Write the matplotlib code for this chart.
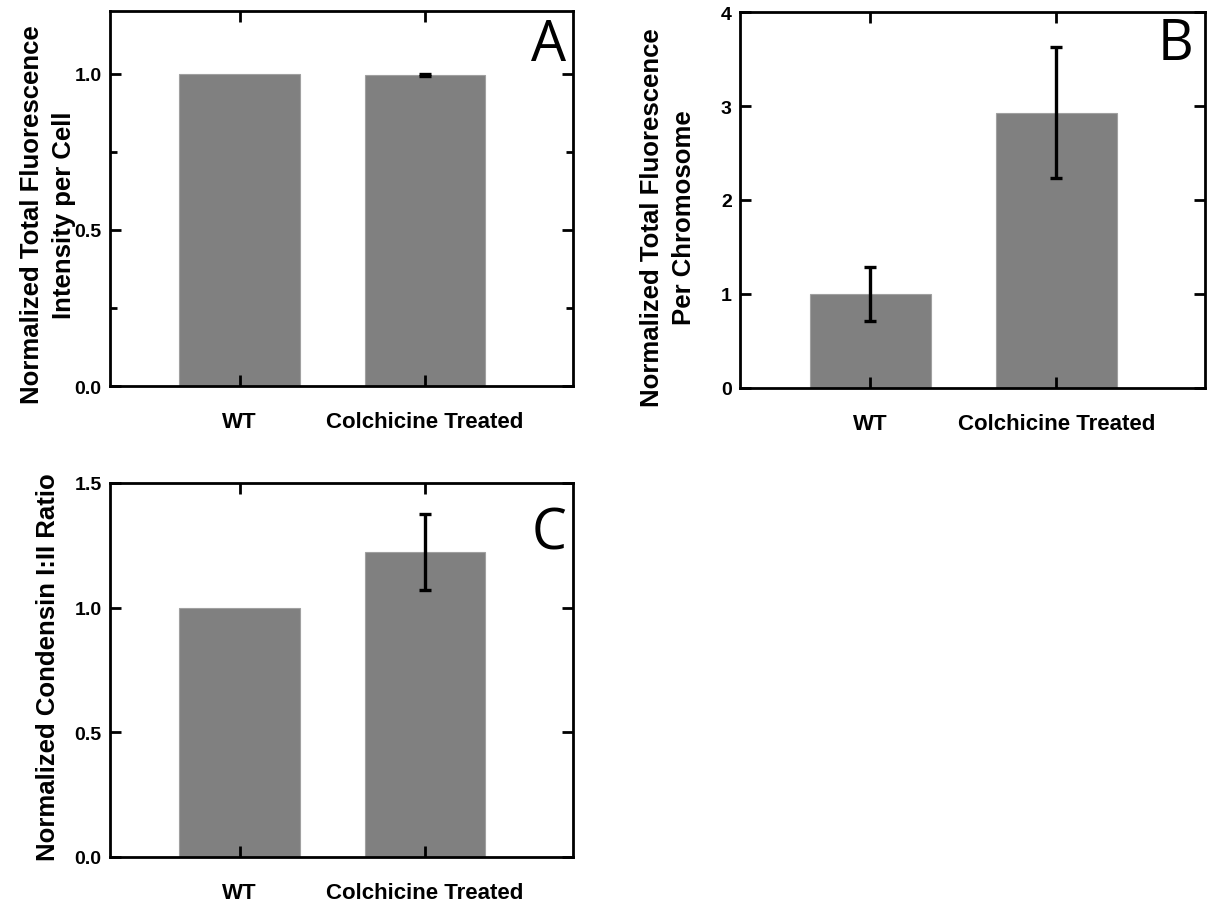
import matplotlib.pyplot as plt
from matplotlib.ticker import MultipleLocator, FormatStrFormatter

categories = ['WT', 'Colchicine Treated']

# panel A
cellMeans = [1.0, 0.995]
cellErr = [0.0, 0.003]
# panel B
chromMeans = [1.0, 2.93]
chromErr = [0.29, 0.70]
# panel C
ratioMeans = [1.0, 1.223]
ratioErr = [0.0, 0.151]

plt.rcParams['font.family'] = ['Liberation Sans', 'DejaVu Sans']

W, H = 1207, 903
fig = plt.figure(figsize=(W / 100, H / 100), dpi=100)


def box(l, t, r, b):
    return [l / W, 1 - b / H, (r - l) / W, (b - t) / H]


ind = [1, 2]
width = 0.65


def panel(rect, means, errs, ymax, major, minor, fmt, letter, letter_xy):
    ax = fig.add_axes(box(*rect))
    ax.bar(ind, means, width, color='#808080', edgecolor='#a0a0a0', linewidth=0.8)
    # only bars with a real error get a bar (no stray caps)
    for x, m, e in zip(ind, means, errs):
        if e > 0:
            ax.errorbar(x, m, yerr=e, fmt='none', ecolor='black', elinewidth=2.4,
                        capsize=4.5, capthick=2.4)
    ax.set_xlim(0.3, 2.8)
    ax.set_ylim(0, ymax)
    ax.set_xticks(ind)
    ax.set_xticklabels(categories, fontsize=16, fontweight='bold')
    ax.yaxis.set_major_locator(MultipleLocator(major))
    if minor:
        ax.yaxis.set_minor_locator(MultipleLocator(minor))
    ax.yaxis.set_major_formatter(FormatStrFormatter(fmt))
    for lab in ax.get_yticklabels():
        lab.set_fontweight('bold')
        lab.set_fontsize(14)
    ax.tick_params(which='both', direction='in', top=True, right=True)
    ax.tick_params(which='major', length=8, width=2)
    ax.tick_params(which='minor', length=5, width=2)
    ax.tick_params(axis='x', pad=18)
    ax.tick_params(axis='y', pad=6)
    for s in ax.spines.values():
        s.set_linewidth(2)
    ax.text(letter_xy[0], letter_xy[1], letter, transform=ax.transAxes,
            ha='right', va='top', fontsize=40, family='Open Sans')
    return ax


panel((110, 12, 573, 387), cellMeans, cellErr, 1.2, 0.5, 0.25, '%.1f', 'A', (0.985, 0.985))
panel((740, 13, 1205, 389), chromMeans, chromErr, 4, 1, None, '%d', 'B', (0.975, 0.99))
panel((110, 484, 573, 858), ratioMeans, ratioErr, 1.5, 0.5, None, '%.1f', 'C', (0.985, 0.94))

fig.text(48 / W, 1 - 215 / H, 'Normalized Total Fluorescence\nIntensity per Cell',
         rotation=90, ha='center', va='center', multialignment='center',
         fontsize=18.5, fontweight='bold', linespacing=1.45)
fig.text(668 / W, 1 - 218 / H, 'Normalized Total Fluorescence\nPer Chromosome',
         rotation=90, ha='center', va='center', multialignment='center',
         fontsize=18.5, fontweight='bold', linespacing=1.45)
fig.text(48 / W, 1 - 667 / H, 'Normalized Condensin I:II Ratio',
         rotation=90, ha='center', va='center',
         fontsize=18.5, fontweight='bold')

fig.savefig('out.png', dpi=100)
